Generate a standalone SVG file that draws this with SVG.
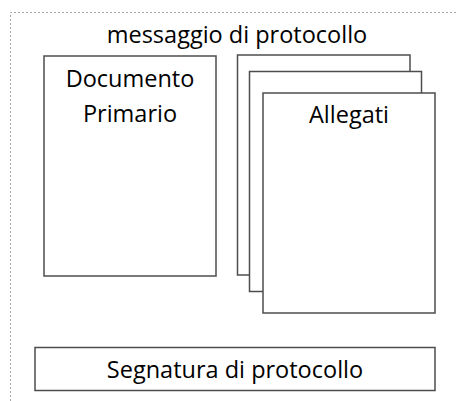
<svg xmlns="http://www.w3.org/2000/svg" width="458" height="401" viewBox="0 0 458 401">
<style>
.box{fill:#fff;stroke:#4d4d4d;stroke-width:1.5}
.t{font-family:"Open Sans","Liberation Sans",sans-serif;font-size:23.5px;fill:#000;text-anchor:middle}
</style>
<rect width="458" height="401" fill="#fff"/>
<path d="M10.5,401 V12.5 H458" fill="none" stroke="#a6a6a6" stroke-width="1" stroke-dasharray="2,2"/>
<text class="t" x="237" y="43">messaggio di protocollo</text>
<g id="documento-primario">
<rect class="box" x="44" y="56" width="172" height="220"/>
<text class="t" x="130" y="87">Documento</text>
<text class="t" x="130" y="122">Primario</text>
</g>
<g id="allegati">
<rect class="box" x="237.5" y="55" width="172.5" height="220"/>
<rect class="box" x="249.5" y="71.5" width="172" height="220"/>
<rect class="box" x="263" y="93" width="172" height="220"/>
<text class="t" x="349" y="123">Allegati</text>
</g>
<g id="segnatura">
<rect class="box" x="35" y="347.5" width="400" height="43"/>
<text class="t" x="235" y="378">Segnatura di protocollo</text>
</g>
<g id="connectors"/>
</svg>
